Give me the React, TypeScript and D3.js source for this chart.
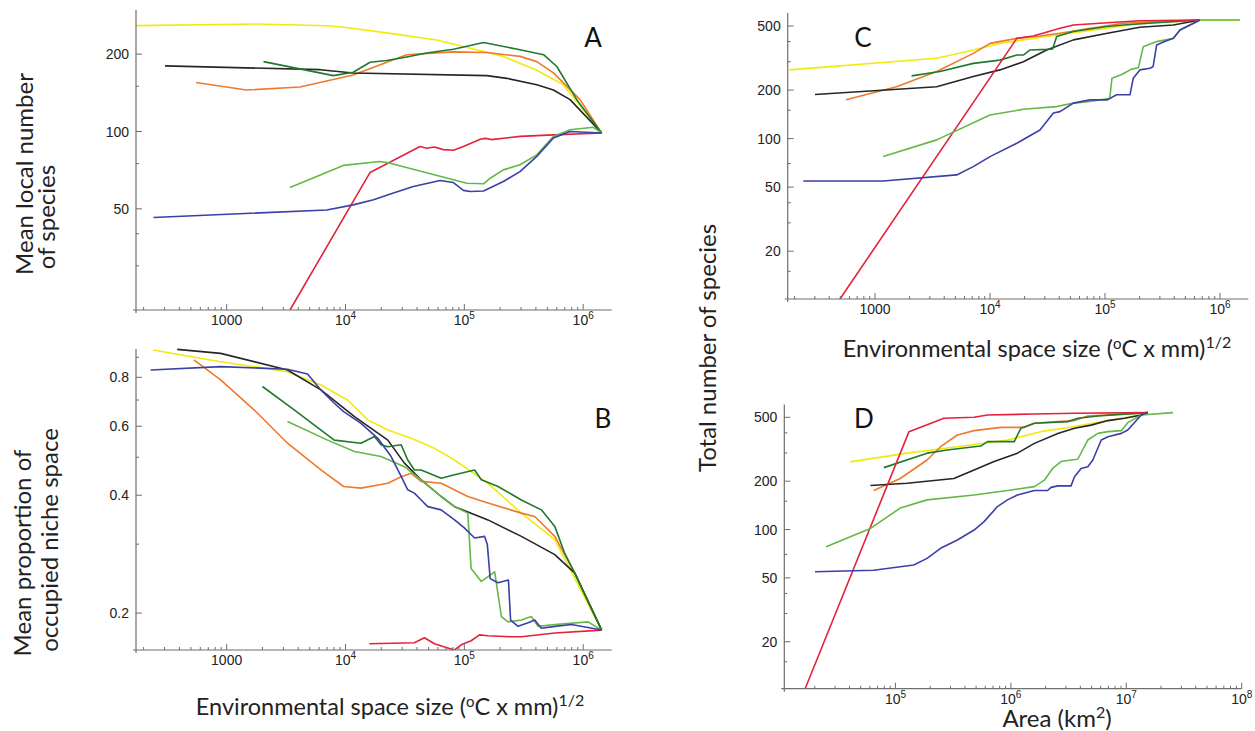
import React from 'react';
import * as d3 from 'd3';

type Pt = [number, number];

const COLORS = {
  yellow: '#f2ea0c',
  orange: '#ef7a2e',
  darkGreen: '#1f7a2c',
  lightGreen: '#63b847',
  blue: '#3b3fa6',
  red: '#e3223b',
  black: '#262626',
};

// ---------- Panel A: mean local number of species vs environmental space size
const A_yellow: Pt[] = [[160, 258], [1800, 262], [6950, 258], [10100, 254], [22200, 242], [58600, 227], [112000, 211], [213000, 196], [407000, 173], [682000, 152], [1430000, 98.6]];
const A_orange: Pt[] = [[552, 155], [1470, 145], [4140, 149], [11600, 166], [32700, 199], [80900, 204], [155000, 203], [294000, 196], [407000, 187], [562000, 169], [942000, 133], [1430000, 98.6]];
const A_darkGreen: Pt[] = [[2040, 187], [7910, 165], [11600, 170], [16100, 186], [22200, 189], [32700, 195], [48200, 202], [80900, 209], [145000, 222], [294000, 208], [464000, 199], [600000, 179], [883000, 133], [1430000, 98.6]];
const A_black: Pt[] = [[303, 180], [6110, 174], [11600, 169], [155000, 165], [228000, 161], [407000, 152], [562000, 145], [776000, 133], [1430000, 98.6]];
const A_red: Pt[] = [[3410, 20.2], [16100, 69.3], [42400, 87.4], [48200, 86], [56000, 87], [66600, 85], [80900, 84.5], [98200, 87.4], [136000, 93.3], [150000, 94], [170000, 93], [294000, 95.7], [562000, 97], [1430000, 98.6]];
const A_lightGreen: Pt[] = [[3410, 60.6], [9590, 73.8], [19500, 76.4], [23700, 75.3], [105000, 62.9], [145000, 62.6], [165000, 65.8], [213000, 70.9], [294000, 74.2], [407000, 81.1], [562000, 95.7], [776000, 101.5], [1220000, 103.8], [1430000, 98.6]];
const A_blue: Pt[] = [[242, 46.3], [6950, 49.5], [11600, 51.8], [17200, 54.2], [25300, 57.6], [37200, 61.1], [62500, 64.5], [80900, 63.3], [98200, 59.0], [112000, 58.4], [145000, 58.7], [213000, 63.9], [294000, 69.8], [407000, 80], [562000, 94.3], [776000, 100], [1430000, 98.6]];

// ---------- Panel B: mean proportion of occupied niche space
const B_yellow: Pt[] = [[240, 0.939], [890, 0.877], [3250, 0.827], [6210, 0.765], [10400, 0.700], [15400, 0.623], [22700, 0.587], [35700, 0.559], [56100, 0.527], [82700, 0.492], [158000, 0.429], [302000, 0.360], [577000, 0.308], [1430000, 0.181]];
const B_black: Pt[] = [[384, 0.943], [890, 0.921], [3250, 0.835], [6210, 0.743], [11900, 0.635], [22700, 0.553], [31300, 0.483], [43300, 0.438], [63800, 0.397], [82700, 0.374], [158000, 0.346], [302000, 0.314], [577000, 0.282], [850000, 0.253], [1430000, 0.181]];
const B_blue: Pt[] = [[229, 0.835], [890, 0.852], [3250, 0.839], [4790, 0.816], [6210, 0.743], [8040, 0.687], [9640, 0.654], [13500, 0.610], [18700, 0.559], [24200, 0.502], [29400, 0.447], [33400, 0.413], [38000, 0.405], [43300, 0.389], [49200, 0.374], [63800, 0.367], [82700, 0.346], [100000, 0.330], [122000, 0.311], [148000, 0.314], [156000, 0.300], [165000, 0.245], [192000, 0.239], [235000, 0.243], [245000, 0.192], [283000, 0.185], [344000, 0.189], [391000, 0.192], [445000, 0.183], [577000, 0.185], [796000, 0.187], [1430000, 0.181]];
const B_lightGreen: Pt[] = [[3250, 0.617], [7060, 0.553], [11900, 0.517], [19900, 0.502], [31300, 0.473], [43300, 0.438], [63800, 0.397], [82700, 0.374], [107000, 0.360], [114000, 0.260], [139000, 0.241], [180000, 0.255], [205000, 0.196], [233000, 0.190], [302000, 0.192], [366000, 0.196], [417000, 0.185], [577000, 0.187], [1100000, 0.190], [1430000, 0.181]];
const B_darkGreen: Pt[] = [[2000, 0.758], [3700, 0.661], [8040, 0.553], [13500, 0.543], [17500, 0.565], [19900, 0.538], [22700, 0.532], [29400, 0.538], [33400, 0.492], [38000, 0.464], [43300, 0.464], [63800, 0.442], [82700, 0.451], [122000, 0.464], [139000, 0.438], [192000, 0.421], [302000, 0.389], [445000, 0.367], [577000, 0.333], [700000, 0.284], [850000, 0.253], [1430000, 0.181]];
const B_orange: Pt[] = [[530, 0.886], [890, 0.788], [1700, 0.661], [3250, 0.543], [6210, 0.464], [9640, 0.421], [13500, 0.417], [22700, 0.429], [29400, 0.446], [35700, 0.455], [43300, 0.434], [63800, 0.429], [107000, 0.397], [158000, 0.382], [302000, 0.360], [391000, 0.353], [577000, 0.314], [850000, 0.253], [1430000, 0.181]];
const B_red: Pt[] = [[15900, 0.167], [38000, 0.168], [46100, 0.173], [56100, 0.167], [72600, 0.163], [82700, 0.161], [94200, 0.166], [114000, 0.170], [134000, 0.176], [158000, 0.175], [248000, 0.174], [302000, 0.174], [577000, 0.178], [1430000, 0.181]];

// ---------- Panel C: total number of species vs environmental space size
const C_yellow: Pt[] = [[180, 267], [3440, 315], [7160, 355], [12200, 390], [19500, 410], [38000, 440], [105000, 484], [201000, 520], [393000, 532], [670000, 545], [1490000, 545]];
const C_orange: Pt[] = [[560, 174], [1540, 210], [3440, 261], [7160, 338], [10000, 390], [17100, 419], [27200, 433], [40600, 451], [74100, 484], [144000, 520], [281000, 532], [670000, 545]];
const C_red: Pt[] = [[496, 10.1], [17100, 419], [23800, 433], [40600, 484], [53100, 507], [105000, 524], [201000, 539], [670000, 545]];
const C_darkGreen: Pt[] = [[2080, 245], [3670, 261], [7160, 293], [12200, 307], [17100, 330], [19500, 330], [22300, 355], [31100, 358], [35000, 360], [38000, 430], [53100, 462], [105000, 496], [144000, 507], [281000, 524], [670000, 545]];
const C_black: Pt[] = [[301, 188], [3440, 210], [7160, 243], [12200, 267], [19500, 300], [31100, 355], [53100, 410], [105000, 451], [201000, 491], [393000, 507], [670000, 545]];
const C_lightGreen: Pt[] = [[1180, 77.3], [3440, 98.2], [10000, 140], [19500, 152], [38000, 158], [53100, 166], [74100, 170], [110000, 178], [115000, 237], [140000, 250], [170000, 270], [195000, 275], [215000, 372], [281000, 400], [393000, 419], [449000, 472], [670000, 545], [1490000, 545]];
const C_blue: Pt[] = [[238, 54.6], [1180, 54.6], [5130, 59.5], [7160, 67], [10000, 77.3], [17100, 93.5], [27200, 113], [35600, 144], [40600, 147], [53100, 166], [74100, 174], [105000, 174], [126000, 187], [165000, 187], [176000, 237], [201000, 267], [246000, 273], [262000, 280], [281000, 381], [330000, 400], [393000, 419], [449000, 472], [670000, 545]];

// ---------- Panel D: total number of species vs area
const D_red: Pt[] = [[16500, 10.2], [131000, 407], [263000, 493], [480000, 500], [627000, 517], [1600000, 524], [3560000, 530], [15400000, 535]];
const D_yellow: Pt[] = [[40600, 264], [126000, 299], [344000, 328], [935000, 361], [1820000, 407], [3560000, 438], [6930000, 477], [13500000, 517], [15400000, 535]];
const D_orange: Pt[] = [[64900, 175], [110000, 208], [188000, 271], [246000, 328], [344000, 388], [480000, 413], [818000, 433], [1310000, 433], [1600000, 459], [2550000, 470], [3560000, 477], [4640000, 510], [15400000, 535]];
const D_darkGreen: Pt[] = [[79300, 243], [188000, 299], [281000, 313], [480000, 328], [548000, 331], [627000, 353], [1070000, 353], [1220000, 427], [1600000, 459], [3110000, 470], [3800000, 493], [5670000, 510], [15400000, 535]];
const D_black: Pt[] = [[60700, 188], [126000, 194], [321000, 208], [480000, 235], [716000, 265], [1140000, 299], [1600000, 344], [2550000, 397], [3560000, 427], [4960000, 447], [6930000, 477], [9680000, 493], [13500000, 517], [15400000, 535]];
const D_lightGreen: Pt[] = [[25100, 78.2], [40600, 90.2], [60700, 101.6], [110000, 136], [188000, 153], [480000, 164], [935000, 175], [1600000, 185], [1950000, 203], [2300000, 240], [2720000, 265], [3320000, 271], [3800000, 274], [4640000, 361], [5670000, 397], [6930000, 407], [9060000, 413], [10300000, 463], [13500000, 517], [25400000, 535]];
const D_blue: Pt[] = [[20100, 54.6], [64900, 55.8], [110000, 58.6], [144000, 60.1], [188000, 66.1], [246000, 76.4], [344000, 86.1], [480000, 99.3], [586000, 112], [765000, 139], [935000, 153], [1140000, 164], [1600000, 175], [2080000, 175], [2230000, 183], [2550000, 187], [3320000, 187], [3560000, 213], [4060000, 240], [4640000, 246], [5130000, 271], [6070000, 361], [6930000, 378], [9060000, 397], [10300000, 417], [13500000, 517], [15400000, 535]];

// ---------- ticks
const ENV_X_MAJOR = [1000, 1e4, 1e5, 1e6];
const AREA_X_MAJOR = [1e5, 1e6, 1e7, 1e8];
const A_Y_MAJOR = [50, 100, 200];
const A_Y_MINOR = [30, 40, 75, 150];
const B_Y_MAJOR = [0.2, 0.4, 0.6, 0.8];
const B_Y_MINOR = [0.3, 0.5, 0.7, 0.9];
const CD_Y_MAJOR = [20, 50, 100, 200, 500];
const CD_Y_MINOR = [15, 30, 40, 70, 150, 300, 400];

const TICK_FONT = '"Liberation Sans", Arial, sans-serif';
const LABEL_FONT = 'Lato, "Open Sans", sans-serif';

type Series = { color: string; pts: Pt[] };

interface PanelProps {
  id: string;
  xDomain: [number, number];
  xRange: [number, number];
  yDomain: [number, number];
  yRange: [number, number];
  xMajor: number[];
  plain1000: boolean;
  yMajor: number[];
  yMinor: number[];
  series: Series[];
}

function Panel(p: PanelProps) {
  const x = d3.scaleLog().domain(p.xDomain).range(p.xRange);
  const y = d3.scaleLog().domain(p.yDomain).range(p.yRange);
  const line = d3.line<Pt>().x((d) => x(d[0])).y((d) => y(d[1]));
  const [x0, x1] = p.xRange;
  const [yb, yt] = p.yRange;
  const lo = Math.floor(Math.log10(p.xDomain[0]));
  const hi = Math.ceil(Math.log10(p.xDomain[1]));
  const xMinor: number[] = [];
  for (let e = lo; e < hi; e++) {
    for (let k = 2; k <= 9; k++) {
      const v = k * Math.pow(10, e);
      if (v >= p.xDomain[0] && v <= p.xDomain[1]) xMinor.push(v);
    }
  }
  const axisColor = '#6e6e6e';
  return (
    <g>
      <defs>
        <clipPath id={`clip-${p.id}`}>
          <rect x={x0} y={yt - 4} width={x1 - x0} height={yb - yt + 4} />
        </clipPath>
      </defs>
      <g clipPath={`url(#clip-${p.id})`}>
        {p.series.map((s, i) => (
          <path key={i} d={line(s.pts) || ''} fill="none" stroke={s.color} strokeWidth={1.6} strokeLinejoin="round" />
        ))}
      </g>
      <line x1={x0 - 3} x2={x1} y1={yb} y2={yb} stroke={axisColor} strokeWidth={1.2} />
      <line x1={x0} x2={x0} y1={yb + 3} y2={yt} stroke={axisColor} strokeWidth={1.2} />
      {xMinor.map((v) => (
        <line key={`xm${v}`} x1={x(v)} x2={x(v)} y1={yb} y2={yb - 3} stroke={axisColor} strokeWidth={1} />
      ))}
      {p.xMajor.map((v) => (
        <g key={`xM${v}`}>
          <line x1={x(v)} x2={x(v)} y1={yb} y2={yb - 6} stroke={axisColor} strokeWidth={1} />
          <text x={x(v)} y={yb + 15} textAnchor="middle" fontFamily={TICK_FONT} fontSize={14} fill="#222">
            {p.plain1000 && v === 1000 ? (
              '1000'
            ) : (
              <>
                10
                <tspan dy={-6} fontSize={10}>
                  {Math.round(Math.log10(v))}
                </tspan>
              </>
            )}
          </text>
        </g>
      ))}
      {p.yMinor.map((v) => (
        <line key={`ym${v}`} x1={x0} x2={x0 + 3} y1={y(v)} y2={y(v)} stroke={axisColor} strokeWidth={1} />
      ))}
      {p.yMajor.map((v) => (
        <g key={`yM${v}`}>
          <line x1={x0} x2={x0 + 6} y1={y(v)} y2={y(v)} stroke={axisColor} strokeWidth={1} />
          <text x={x0 - 7} y={y(v)} dy="0.36em" textAnchor="end" fontFamily={TICK_FONT} fontSize={14} fill="#222">
            {String(v)}
          </text>
        </g>
      ))}
    </g>
  );
}

const mk = (yl: Pt[], o: Pt[], dg: Pt[], k: Pt[], r: Pt[], lg: Pt[], b: Pt[]): Series[] => [
  { color: COLORS.yellow, pts: yl },
  { color: COLORS.orange, pts: o },
  { color: COLORS.black, pts: k },
  { color: COLORS.darkGreen, pts: dg },
  { color: COLORS.red, pts: r },
  { color: COLORS.lightGreen, pts: lg },
  { color: COLORS.blue, pts: b },
];

function EnvLabel({ x, y }: { x: number; y: number }) {
  return (
    <text x={x} y={y} fontSize={23.5}>
      Environmental space size (<tspan dy={-8} fontSize={15}>o</tspan>
      <tspan dy={8}>C x mm)</tspan>
      <tspan dy={-9} fontSize={16}>1/2</tspan>
    </text>
  );
}

export default function App() {
  const envDomain: [number, number] = [Math.pow(10, 2.237), Math.pow(10, 6.24)];
  return (
    <svg width={1255} height={731} style={{ position: 'absolute', left: 0, top: 0, background: '#fff' }} fontFamily={LABEL_FONT}>
      <rect x={0} y={0} width={1255} height={731} fill="#fff" />
      <Panel
        id="A"
        xDomain={envDomain}
        xRange={[136, 611.7]}
        yDomain={[20.2, 297]}
        yRange={[310, 10]}
        xMajor={ENV_X_MAJOR}
        plain1000
        yMajor={A_Y_MAJOR}
        yMinor={A_Y_MINOR}
        series={mk(A_yellow, A_orange, A_darkGreen, A_black, A_red, A_lightGreen, A_blue)}
      />
      <Panel
        id="B"
        xDomain={envDomain}
        xRange={[136, 611.7]}
        yDomain={[0.161, 0.945]}
        yRange={[650, 349]}
        xMajor={ENV_X_MAJOR}
        plain1000
        yMajor={B_Y_MAJOR}
        yMinor={B_Y_MINOR}
        series={mk(B_yellow, B_orange, B_darkGreen, B_black, B_red, B_lightGreen, B_blue)}
      />
      <Panel
        id="C"
        xDomain={[Math.pow(10, 2.241), Math.pow(10, 6.246)]}
        xRange={[787.7, 1248.3]}
        yDomain={[10.1, 602]}
        yRange={[299, 13]}
        xMajor={ENV_X_MAJOR}
        plain1000
        yMajor={CD_Y_MAJOR}
        yMinor={CD_Y_MINOR}
        series={mk(C_yellow, C_orange, C_darkGreen, C_black, C_red, C_lightGreen, C_blue)}
      />
      <Panel
        id="D"
        xDomain={[Math.pow(10, 4.037), 1e8]}
        xRange={[784.3, 1241.7]}
        yDomain={[10.2, 600]}
        yRange={[688.7, 404.6]}
        xMajor={AREA_X_MAJOR}
        plain1000={false}
        yMajor={CD_Y_MAJOR}
        yMinor={CD_Y_MINOR}
        series={mk(D_yellow, D_orange, D_darkGreen, D_black, D_red, D_lightGreen, D_blue)}
      />

      <g fontFamily={LABEL_FONT} fontSize={26} fill="#111" textAnchor="middle">
        <text x={593} y={47}>A</text>
        <text x={603} y={428}>B</text>
        <text x={863} y={47}>C</text>
        <text x={864} y={428}>D</text>
      </g>

      <g fontFamily={LABEL_FONT} fontSize={24} fill="#222" textAnchor="middle">
        <text transform="translate(33,174) rotate(-90)">Mean local number</text>
        <text transform="translate(55,217) rotate(-90)">of species</text>
        <text transform="translate(31,553) rotate(-90)">Mean proportion of</text>
        <text transform="translate(58,540) rotate(-90)">occupied niche space</text>
        <text transform="translate(716,348) rotate(-90)">Total number of species</text>
        <EnvLabel x={390} y={715} />
        <EnvLabel x={1037} y={357} />
        <text x={1057} y={727}>
          Area (km<tspan dy={-9} fontSize={16}>2</tspan>
          <tspan dy={9}>)</tspan>
        </text>
      </g>
    </svg>
  );
}
